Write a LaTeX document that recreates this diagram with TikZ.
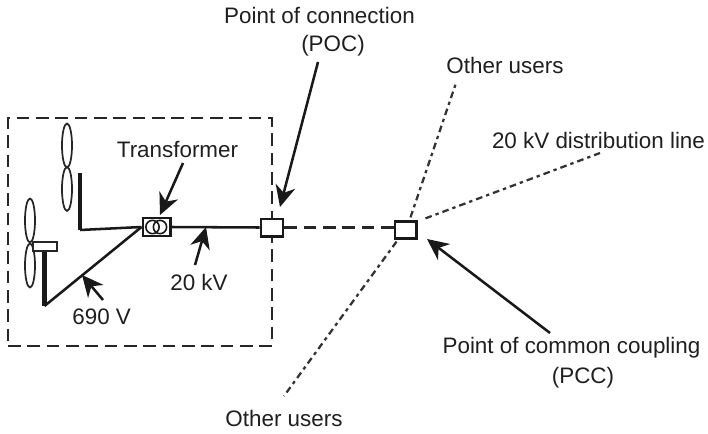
\documentclass[tikz,border=0pt]{standalone}
\usepackage{fontspec}
\setmainfont{Liberation Sans}
\usetikzlibrary{arrows.meta,shapes.geometric}
\tikzset{
  x=0.75pt,y=-0.75pt,
  lbl/.style={font=\fontsize{16.8}{20}\selectfont,text=black!88,inner sep=0pt,anchor=center},
  wire/.style={line width=1.9pt,black!90},
  tower/.style={line width=3.6pt,black!90},
  callout/.style={line width=1.9pt,black!90,-{Stealth[length=16pt,width=15pt,inset=5pt]}},
  dash line/.style={line width=1.7pt,black!85,dash pattern=on 9.5pt off 5pt},
  dot line/.style={line width=1.7pt,black!80,dash pattern=on 5pt off 3pt on 2.5pt off 3pt},
  blade/.style={ellipse,draw,line width=1.3pt,black!85,minimum width=7.5pt,minimum height=33pt,inner sep=0pt},
  bus/.style={rectangle,draw,line width=2pt,black!90,fill=white,inner sep=0pt},
}
\begin{document}
\begin{tikzpicture}
\useasboundingbox (0,0) rectangle (708,433);
% site boundary
\node[draw,dash line,minimum width=198pt,minimum height=171pt,inner sep=0pt] (site) at (140,232) {};
% turbines
\node[blade] (b1) at (67,145.5) {};
\node[blade] (b2) at (67,189) {};
\node[blade] (b3) at (30,220.5) {};
\node[blade] (b4) at (30,265.5) {};
\coordinate (t1top) at (80,173);
\coordinate (t1bot) at (80,230);
\coordinate (t2top) at (44.5,250);
\coordinate (t2bot) at (44.5,306);
\draw[tower] (t1top) -- (t1bot);
\draw[tower] (t2top) -- (t2bot);
\node[rectangle,draw,line width=1.8pt,black!85,fill=white,minimum width=18pt,minimum height=7pt,inner sep=0pt] (hub) at (45,246.5) {};
% buses
\node[bus,minimum width=16.5pt,minimum height=13pt] (poc) at (272,227.5) {};
\node[bus,minimum width=16pt,minimum height=12.5pt] (pcc) at (405.5,230) {};
% wires
\node[bus,minimum width=20.5pt,minimum height=13.5pt] (tr) at (156.5,227) {};
\draw[wire] (t1bot) -- (tr.west);
\draw[wire] (t2bot) -- (tr.west);
\draw[wire] (tr.east) -- (poc.west);
\draw[dash line] (poc.east) -- (poc.east -| pcc.west);
\draw[line width=1.2pt,black!90] (152.5,227) circle[radius=5pt];
\draw[line width=1.2pt,black!90] (160,227) circle[radius=5pt];
% other lines
\coordinate (up) at (456,83);
\coordinate (down) at (284,396);
\coordinate (dist) at (600,153);
\draw[dot line] (pcc.north) ++(5,-3) -- (up);
\draw[dot line] (pcc.north east) ++(8,-2) -- (dist);
\draw[dot line] (pcc.south west) ++(3,2) -- (down);
% labels
\node[lbl] (ltr) at (177.5,150) {Transformer};
\node[lbl] (l20) at (199,282) {20 kV};
\node[lbl] (l690) at (101.7,317) {690 V};
\node[lbl] (lpoc1) at (319.5,15) {Point of connection};
\node[lbl] (lpoc2) at (333,46) {(POC)};
\node[lbl] (lou1) at (505,65) {Other users};
\node[lbl] (lou2) at (284,418) {Other users};
\node[lbl] (ldist) at (598.5,140) {20 kV distribution line};
\node[lbl] (lpcc1) at (571.5,348) {Point of common coupling};
\node[lbl] (lpcc2) at (583,378) {(PCC)};
% callouts
\draw[callout] (183,163) -- (160,215);
\draw[callout] (195,265) -- (206,227);
\draw[callout] (103,300) -- (82,275);
\draw[callout] (318,62) -- (280,207);
\draw[callout] (550,333) -- (427,239);
\end{tikzpicture}
\end{document}
